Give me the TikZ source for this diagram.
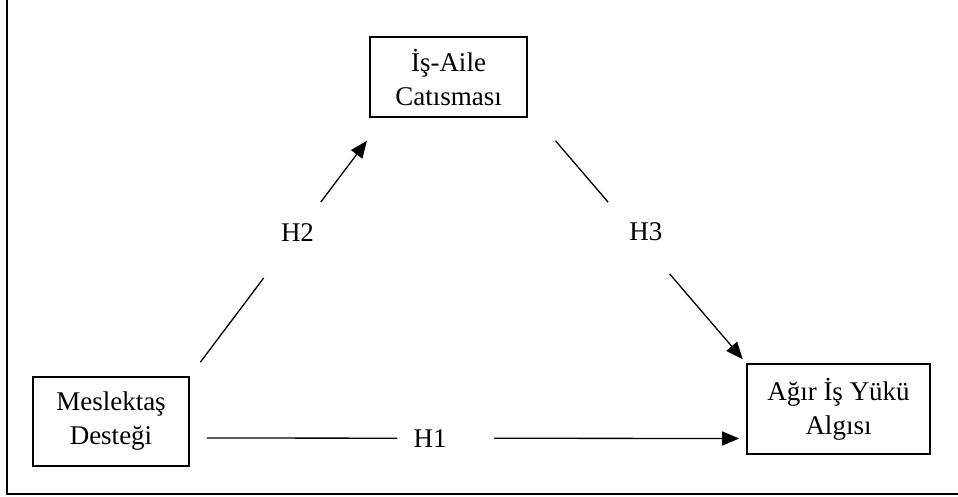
\documentclass[tikz,border=0pt]{standalone}
\usepackage{fontspec}
\setmainfont{Liberation Serif}
\usetikzlibrary{arrows.meta}

\tikzset{
  box/.style={draw, line width=1.6pt, align=center, inner sep=0pt,
              font=\fontsize{27}{34}\selectfont},
  conn/.style={line width=1.3pt},
  arr/.style={conn, -{Triangle[length=17pt,width=14pt]}},
  lbl/.style={inner sep=0pt, font=\fontsize{27}{34}\selectfont},
  frame/.style={line width=2pt}
}

\begin{document}
\begin{tikzpicture}[x=1pt, y=-1pt]
  \useasboundingbox (0,0) rectangle (958,497);

  % outer frame (left and bottom edges)
  \draw[frame] (7,0) -- (7,494) -- (958,494);

  % variables
  \node[box, minimum width=157pt, minimum height=80pt] (ia) at (448.5,77) {İş-Aile\\Catısması};
  \node[box, minimum width=156pt, minimum height=89pt] (ms) at (111,421.5) {Meslektaş\\Desteği};
  \node[box, minimum width=183pt, minimum height=90pt] (ag) at (838.5,409) {Ağır İş Yükü\\Algısı};

  % H1: Meslektaş Desteği -> Ağır İş Yükü Algısı
  \draw[conn, shorten <=17pt, shorten >=349pt]
    ([yshift=-16.5pt]ms.east) -- node[lbl, pos=0.432] (h1) {H1} ([yshift=-29.5pt]ag.west);
  \draw[arr, shorten <=304pt, shorten >=7pt]
    ([yshift=-16.5pt]ms.east) -- ([yshift=-29.5pt]ag.west);

  % H2: Meslektaş Desteği -> İş-Aile Catısması
  \draw[conn, shorten <=17.5pt, shorten >=200.4pt]
    (ms.north east) -- node[lbl, pos=0.554] (h2) {H2} ([xshift=15pt]ia.south west);
  \draw[arr, shorten <=218pt, shorten >=28.8pt]
    (ms.north east) -- ([xshift=15pt]ia.south west);

  % H3: İş-Aile Catısması -> Ağır İş Yükü Algısı
  \draw[conn, shorten <=30.3pt, shorten >=212.2pt]
    ([xshift=8pt]ia.south east) -- node[lbl, pos=0.466, xshift=12pt] (h3) {H3} (ag.north west);
  \draw[arr, shorten <=205.6pt, shorten >=5.3pt]
    ([xshift=8pt]ia.south east) -- (ag.north west);
\end{tikzpicture}
\end{document}
